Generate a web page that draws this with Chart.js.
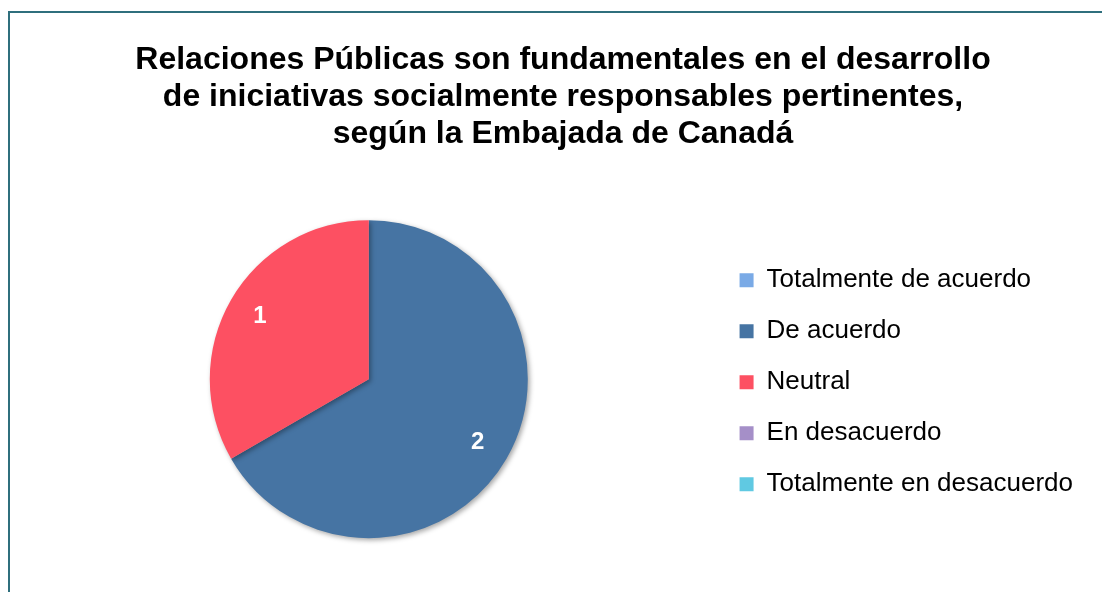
<!DOCTYPE html>
<html>
<head>
<meta charset="utf-8">
<script src="https://cdn.jsdelivr.net/npm/chart.js@4/dist/chart.umd.min.js"></script>
<style>
  html, body { margin: 0; padding: 0; background: #fff; overflow: hidden; }
  #marco {
    position: absolute; left: 8px; top: 11px;
    width: 1200px; height: 700px;
    border: 2px solid #2f6f7d;
  }
  #grafico { position: absolute; left: 0; top: 0; }
</style>
</head>
<body>
<div id="marco"></div>
<canvas id="grafico" width="1103" height="592"></canvas>
<script>
// categorias de la encuesta y cantidad de respuestas
const categorias = ["Totalmente de acuerdo", "De acuerdo", "Neutral", "En desacuerdo", "Totalmente en desacuerdo"];
const respuestas = [0, 2, 1, 0, 0];
const colores = ["#7aaae6", "#4674a3", "#fd5062", "#a58fc8", "#60c9e2"];
const titulo = [
  "Relaciones Públicas son fundamentales en el desarrollo",
  "de iniciativas socialmente responsables pertinentes,",
  "según la Embajada de Canadá"
];

const fuente = "'Liberation Sans', Arial, sans-serif";

// la leyenda reserva un poco mas de ancho a su derecha y baja unos px
const ajusteLeyenda = {
  id: "ajusteLeyenda",
  beforeLayout(chart) {
    const lg = chart.legend;
    if (!lg || lg._ajustada) return;
    const fit = lg.fit.bind(lg);
    lg.fit = function () {
      fit();
      this.width += 20;
    };
    const draw = lg.draw.bind(lg);
    lg.draw = function (area) {
      this.ctx.save();
      this.ctx.translate(0, 3);
      draw(area);
      this.ctx.restore();
    };
    lg._ajustada = true;
  }
};

// sombra suave bajo el pastel + numeros blancos en cada porcion
const etiquetas = {
  id: "etiquetas",
  beforeDatasetsDraw(chart) {
    const ctx = chart.ctx;
    ctx.save();
    ctx.shadowColor = "rgba(0,0,0,0.35)";
    ctx.shadowBlur = 5;
    ctx.shadowOffsetX = 2;
    ctx.shadowOffsetY = 2;
  },
  afterDatasetsDraw(chart) {
    const ctx = chart.ctx;
    ctx.restore();
    const meta = chart.getDatasetMeta(0);
    ctx.save();
    ctx.fillStyle = "#fff";
    ctx.font = "bold 24px " + fuente;
    ctx.textAlign = "center";
    ctx.textBaseline = "middle";
    meta.data.forEach((arc, i) => {
      const v = chart.data.datasets[0].data[i];
      if (!v) return;
      const p = arc.getProps(["x", "y", "startAngle", "endAngle", "outerRadius"], true);
      const a = (p.startAngle + p.endAngle) / 2;
      const r = p.outerRadius * 0.79;
      ctx.fillText(String(v), p.x + Math.cos(a) * r, p.y + Math.sin(a) * r);
    });
    ctx.restore();
  }
};

let ctx = document.getElementById("grafico").getContext("2d");

new Chart(ctx, {
  type: "pie",
  data: {
    labels: categorias,
    datasets: [{
      data: respuestas,
      backgroundColor: colores,
      borderWidth: 0,
      hoverOffset: 0
    }]
  },
  options: {
    responsive: false,
    animation: false,
    radius: 159,
    layout: { padding: { left: 23, right: 0, top: 0, bottom: 54 } },
    plugins: {
      tooltip: { enabled: false },
      title: {
        display: true,
        text: titulo,
        color: "#000",
        font: { family: fuente, size: 32, weight: "bold", lineHeight: 1.17 },
        padding: { top: 41, bottom: 67 }
      },
      legend: {
        position: "right",
        fullSize: false,
        labels: {
          color: "#000",
          font: { family: fuente, size: 26 },
          boxWidth: 14,
          boxHeight: 14,
          padding: 25
        }
      }
    }
  },
  plugins: [ajusteLeyenda, etiquetas]
});
</script>
</body>
</html>
